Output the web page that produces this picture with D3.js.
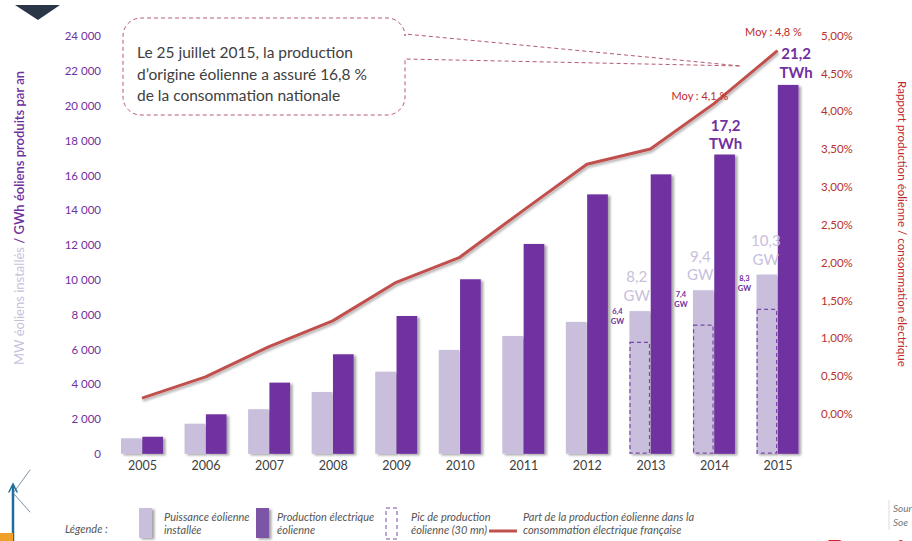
<!DOCTYPE html>
<html>
<head>
<meta charset="utf-8">
<script src="https://cdn.jsdelivr.net/npm/d3@7/dist/d3.min.js"></script>
<style>
  body { margin: 0; background: #fff; }
  svg { display: block; font-family: Lato, "Open Sans", sans-serif; }
</style>
</head>
<body>
<svg id="chart" width="912" height="541"></svg>
<script>
// Parc éolien français : puissance installée, production annuelle et part dans la consommation
const years = [2005, 2006, 2007, 2008, 2009, 2010, 2011, 2012, 2013, 2014, 2015];
const installedMW = [890, 1730, 2560, 3550, 4720, 5970, 6770, 7580, 8200, 9400, 10300];
const productionGWh = [980, 2270, 4090, 5720, 7920, 10030, 12060, 14910, 16060, 17200, 21200];
const peakMW = [null, null, null, null, null, null, null, null, 6400, 7400, 8300];
const sharePct = [0.21, 0.49, 0.89, 1.23, 1.74, 2.07, 2.69, 3.30, 3.50, 4.1, 4.8];
const leftTicks = [0, 2000, 4000, 6000, 8000, 10000, 12000, 14000, 16000, 18000, 20000, 22000, 24000];
const rightTicks = [0, 0.5, 1, 1.5, 2, 2.5, 3, 3.5, 4, 4.5, 5];

const C = {
  light: "#c9bfdd",
  dark: "#7030a0",
  red: "#c0504d",
  redText: "#c0282a",
  axisRed: "#b8312f",
  grey: "#404040"
};

const svg = d3.select("#chart");
const defs = svg.append("defs");

const sh = defs.append("filter").attr("id", "barShadow")
  .attr("x", "-20%").attr("y", "-10%").attr("width", "160%").attr("height", "130%");
sh.append("feDropShadow").attr("dx", 2.5).attr("dy", 1.5).attr("stdDeviation", 1.3)
  .attr("flood-color", "#000").attr("flood-opacity", 0.35);

const lsh = defs.append("filter").attr("id", "lineShadow")
  .attr("x", "-10%").attr("y", "-10%").attr("width", "120%").attr("height", "130%");
lsh.append("feDropShadow").attr("dx", 1).attr("dy", 2.2).attr("stdDeviation", 1)
  .attr("flood-color", "#000").attr("flood-opacity", 0.3);

// Scales
const x = d3.scalePoint().domain(years).range([142, 777.5]);
const sub = d3.scaleBand().domain(["mw", "gwh"]).range([-21, 21]).paddingInner(0.03);
const yL = d3.scaleLinear().domain([0, 24000]).range([453.8, 36.2]);
const yR = d3.scaleLinear().domain([0, 5]).range([414, 35.5]);

// Axes (labels only)
const gL = svg.append("g").attr("transform", "translate(101,0)")
  .call(d3.axisLeft(yL).tickValues(leftTicks).tickSize(0).tickPadding(0)
    .tickFormat(d => d3.format(",")(d).replace(/,/g, " ")));
gL.select(".domain").remove();
gL.selectAll("text").attr("fill", C.dark).attr("font-size", 11.5).attr("font-family", "Lato, sans-serif");

const gR = svg.append("g").attr("transform", "translate(821,0)")
  .call(d3.axisRight(yR).tickValues(rightTicks).tickSize(0).tickPadding(0)
    .tickFormat(d => d.toFixed(2).replace(".", ",") + "%"));
gR.select(".domain").remove();
gR.selectAll("text").attr("fill", C.axisRed).attr("font-size", 11.5).attr("font-family", "Lato, sans-serif");

const gX = svg.append("g").attr("transform", "translate(0,461)")
  .call(d3.axisBottom(x).tickSize(0).tickPadding(0));
gX.select(".domain").remove();
gX.selectAll("text").attr("fill", C.grey).attr("font-size", 12.5).attr("font-family", "Lato, sans-serif");

// Axis titles
svg.append("text")
  .attr("transform", "translate(24,218) rotate(-90)")
  .attr("text-anchor", "middle").attr("font-size", 13)
  .call(t => {
    t.append("tspan").attr("fill", C.light).text("MW éoliens installés ");
    t.append("tspan").attr("fill", C.dark).attr("font-weight", 600).text("/ GWh éoliens produits par an");
  });
svg.append("text")
  .attr("transform", "translate(898,224) rotate(90)")
  .attr("text-anchor", "middle").attr("font-size", 11.6).attr("fill", C.redText)
  .text("Rapport production éolienne / consommation électrique");

// Bars
const groups = svg.append("g").selectAll("g").data(years).join("g")
  .attr("transform", d => `translate(${x(d)},0)`);

groups.append("rect")
  .attr("x", sub("mw")).attr("width", sub.bandwidth())
  .attr("y", (d, i) => yL(installedMW[i]))
  .attr("height", (d, i) => yL(0) - yL(installedMW[i]))
  .attr("fill", C.light).attr("filter", "url(#barShadow)");

groups.append("rect")
  .attr("x", sub("gwh")).attr("width", sub.bandwidth())
  .attr("y", (d, i) => yL(productionGWh[i]))
  .attr("height", (d, i) => yL(0) - yL(productionGWh[i]))
  .attr("fill", C.dark).attr("filter", "url(#barShadow)");

// Peak production (30 min) outlines
groups.filter((d, i) => peakMW[i] != null).append("rect")
  .attr("x", sub("mw") + 0.6).attr("width", sub.bandwidth() - 1.2)
  .attr("y", d => yL(peakMW[years.indexOf(d)]))
  .attr("height", d => yL(0) - yL(peakMW[years.indexOf(d)]) - 0.6)
  .attr("fill", "none").attr("stroke", "#7a4aa8").attr("stroke-width", 1.2)
  .attr("stroke-dasharray", "4,3");

// Share line
const line = d3.line().x((d, i) => x(years[i])).y(d => yR(d));
svg.append("path").datum(sharePct).attr("d", line)
  .attr("fill", "none").attr("stroke", C.red).attr("stroke-width", 3)
  .attr("stroke-linejoin", "round").attr("filter", "url(#lineShadow)");

// Value labels
const iOf = y => years.indexOf(y);
const bigLabel = (yr, val, unit, series, color, dx, dy1, dy2) => {
  const cx = x(yr) + sub(series) + sub.bandwidth() / 2 + dx;
  const top = yL(series === "mw" ? installedMW[iOf(yr)] : productionGWh[iOf(yr)]);
  const g = svg.append("g").attr("fill", color).attr("font-size", 15).attr("text-anchor", "middle")
    .attr("font-weight", series === "gwh" ? 700 : 400);
  g.append("text").attr("x", cx).attr("y", top + dy1).text(val);
  g.append("text").attr("x", cx).attr("y", top + dy2).text(unit);
};
bigLabel(2014, "17,2", "TWh", "gwh", C.dark, 1, -24, -6);
bigLabel(2015, "21,2", "TWh", "gwh", C.dark, 8, -26, -7);
bigLabel(2013, "8,2", "GW", "mw", C.light, -3, -29, -10);
bigLabel(2014, "9,4", "GW", "mw", C.light, -3, -28, -10);
bigLabel(2015, "10,3", "GW", "mw", C.light, -1, -29, -10);

// Small peak labels
[2013, 2014, 2015].forEach(yr => {
  const v = peakMW[iOf(yr)] / 1000;
  const lx = x(yr) + sub("mw") - 12;
  const ly = yL(peakMW[iOf(yr)]);
  const g = svg.append("g").attr("fill", C.dark).attr("font-size", 7.5).attr("font-weight", 700)
    .attr("text-anchor", "middle");
  g.append("text").attr("x", lx).attr("y", ly - 28).text(String(v).replace(".", ","));
  g.append("text").attr("x", lx).attr("y", ly - 18).text("GW");
});

// Average share labels
svg.append("text").attr("x", x(2014) - 14).attr("y", yR(sharePct[iOf(2014)]) - 4)
  .attr("text-anchor", "middle").attr("font-size", 11).attr("fill", C.redText)
  .text("Moy : 4,1 %");
svg.append("text").attr("x", x(2015) - 4).attr("y", yR(sharePct[iOf(2015)]) - 15)
  .attr("text-anchor", "middle").attr("font-size", 11).attr("fill", C.redText)
  .text("Moy : 4,8 %");

// Callout box
const bx0 = 123, by0 = 18, bx1 = 405, by1 = 115, r = 18;
const tipX = 741, tipY = 66, gapTop = 34, gapBot = 59;
const callout = d3.path();
callout.moveTo(bx1, gapTop);
callout.lineTo(bx1, by0 + r);
callout.arcTo(bx1, by0, bx1 - r, by0, r);
callout.lineTo(bx0 + r, by0);
callout.arcTo(bx0, by0, bx0, by0 + r, r);
callout.lineTo(bx0, by1 - r);
callout.arcTo(bx0, by1, bx0 + r, by1, r);
callout.lineTo(bx1 - r, by1);
callout.arcTo(bx1, by1, bx1, by1 - r, r);
callout.lineTo(bx1, gapBot);
callout.lineTo(tipX, tipY);
callout.closePath();
svg.append("path").attr("d", callout.toString())
  .attr("fill", "none").attr("stroke", "#b55a6e").attr("stroke-width", 1)
  .attr("stroke-dasharray", "4,3");

const note = ["Le 25 juillet 2015, la production",
  "d’origine éolienne a assuré 16,8 %",
  "de la consommation nationale"];
svg.append("g").attr("fill", C.grey).attr("font-size", 15.5)
  .selectAll("text").data(note).join("text")
  .attr("x", 137).attr("y", (d, i) => 58 + i * 21.5).text(d => d);

// Legend
const lg = svg.append("g").attr("font-size", 11).attr("font-style", "italic")
  .attr("fill", "#555").attr("font-family", "'Liberation Sans Narrow', Lato, sans-serif");
lg.append("text").attr("x", 65).attr("y", 533).text("Légende :");
lg.append("rect").attr("x", 139).attr("y", 508).attr("width", 13).attr("height", 30)
  .attr("fill", C.light).attr("filter", "url(#barShadow)");
lg.append("rect").attr("x", 256).attr("y", 508).attr("width", 13).attr("height", 30)
  .attr("fill", "#7b55a5").attr("filter", "url(#barShadow)");
lg.append("rect").attr("x", 386).attr("y", 508).attr("width", 11).attr("height", 31)
  .attr("fill", "none").attr("stroke", "#7a4aa8").attr("stroke-dasharray", "4,3");
lg.append("line").attr("x1", 489).attr("x2", 517).attr("y1", 531).attr("y2", 531)
  .attr("stroke", C.red).attr("stroke-width", 3);
const legendText = [
  [164, ["Puissance éolienne", "installée"]],
  [277, ["Production électrique", "éolienne"]],
  [411, ["Pic de production", "éolienne (30 mn)"]],
  [523, ["Part de la production éolienne dans la", "consommation électrique française"]]
];
legendText.forEach(([lx, lines]) => {
  lines.forEach((t, i) => lg.append("text").attr("x", lx).attr("y", 521 + i * 13).text(t));
});

// Slide fragments at the edges
svg.append("path").attr("d", "M15,5 L60,5 L38,20 Z").attr("fill", "#2b3548");
const logo = svg.append("g").attr("stroke-linecap", "round");
logo.append("line").attr("x1", 13).attr("y1", 487).attr("x2", 13).attr("y2", 541)
  .attr("stroke", "#1f6e9a").attr("stroke-width", 2.5);
logo.append("line").attr("x1", 14).attr("y1", 492).attr("x2", 30).attr("y2", 470)
  .attr("stroke", "#7a90a8").attr("stroke-width", 1);
logo.append("line").attr("x1", 14).attr("y1", 494).attr("x2", 30).attr("y2", 512)
  .attr("stroke", "#7a90a8").attr("stroke-width", 1);
logo.append("path").attr("d", "M9,492 L13,484 L17,492").attr("fill", "none")
  .attr("stroke", "#1f6e9a").attr("stroke-width", 1.5);
svg.append("rect").attr("x", 0).attr("y", 533).attr("width", 13).attr("height", 8).attr("fill", "#f0a028");

svg.append("line").attr("x1", 889).attr("x2", 889).attr("y1", 500).attr("y2", 530)
  .attr("stroke", "#ddd");
const src = svg.append("g").attr("font-size", 10).attr("font-style", "italic").attr("fill", "#777");
src.append("text").attr("x", 893).attr("y", 512).text("Source");
src.append("text").attr("x", 893).attr("y", 526).text("Soe");
svg.append("text").attr("x", 826).attr("y", 564).attr("font-size", 32).attr("font-weight", 700)
  .attr("fill", "#d4202a").text("Dossier");
</script>
</body>
</html>
